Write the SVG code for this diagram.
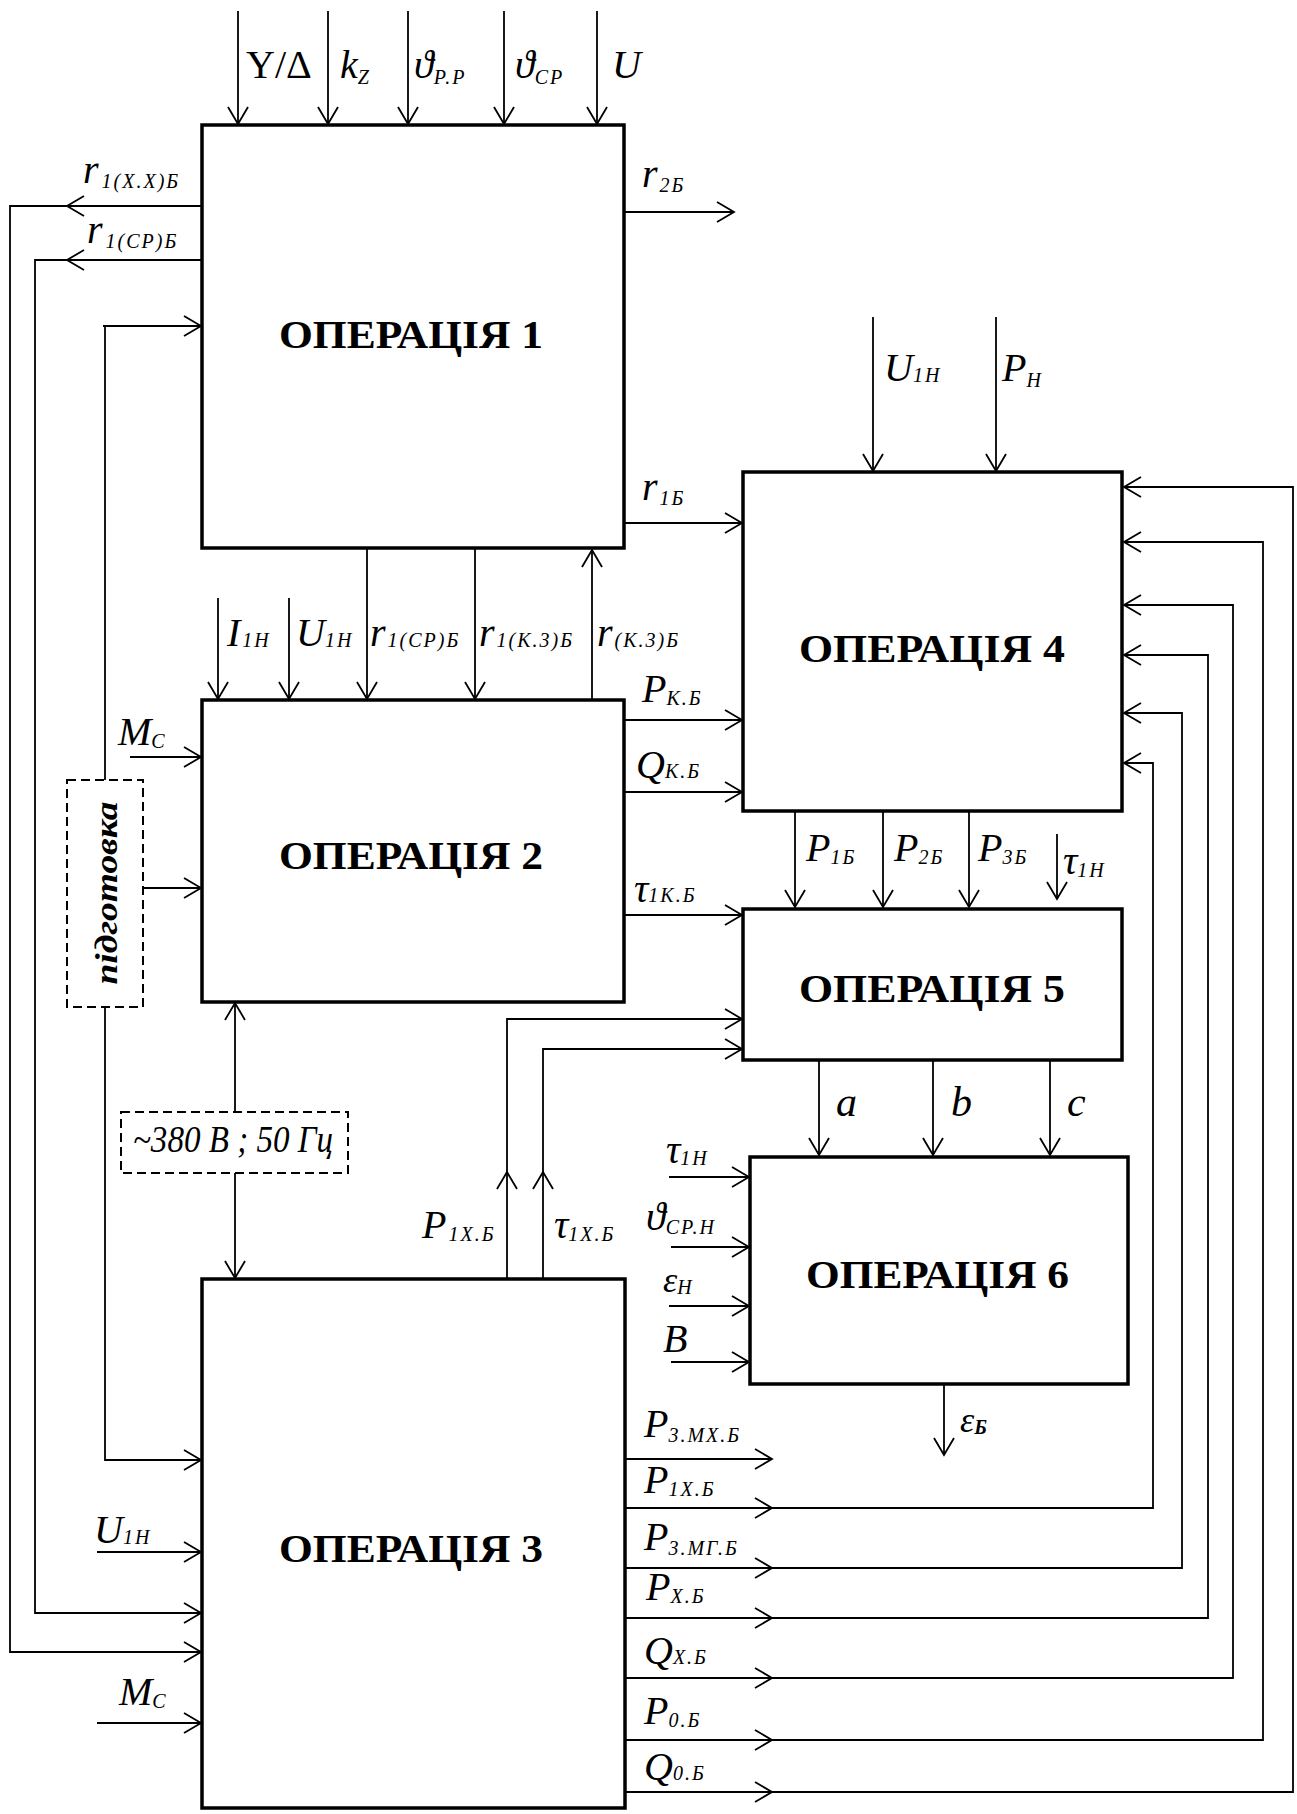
<svg xmlns="http://www.w3.org/2000/svg" width="1297" height="1814" viewBox="0 0 1297 1814">
<defs>
<marker id="ah" markerWidth="22" markerHeight="24" refX="18" refY="11" orient="auto" markerUnits="userSpaceOnUse" overflow="visible">
<path d="M1,1 L18,11 L1,21" fill="none" stroke="#000" stroke-width="1.8"/>
</marker>
</defs>
<style>
.box{fill:#fff;stroke:#000;stroke-width:3.5}
.c{fill:none;stroke:#000;stroke-width:1.8}
.a{marker-end:url(#ah)}
.dash{fill:#fff;stroke:#000;stroke-width:2;stroke-dasharray:9 5}
.t{font-family:"Liberation Serif","Times New Roman",serif;font-weight:bold;font-size:40px;fill:#000}
.l{font-family:"Liberation Serif","Times New Roman","DejaVu Serif",serif;font-style:italic;font-size:40px;fill:#000}
.u{font-family:"Liberation Serif","Times New Roman","DejaVu Serif",serif;font-size:40px;fill:#000}
.s{font-size:20px;letter-spacing:2px}
</style>
<rect width="1297" height="1814" fill="#fff"/>

<g id="connectors">
<!-- top inputs to Op1 -->
<line class="c a" x1="238" y1="11" x2="238" y2="124"/>
<line class="c a" x1="328" y1="11" x2="328" y2="124"/>
<line class="c a" x1="408" y1="11" x2="408" y2="124"/>
<line class="c a" x1="504" y1="11" x2="504" y2="124"/>
<line class="c a" x1="597" y1="11" x2="597" y2="124"/>
<!-- r1(XX) feedback -->
<line class="c a" x1="202" y1="206" x2="67" y2="206"/>
<polyline class="c a" points="67,206 10,206 10,1652 201,1652"/>
<!-- r1(CP) -->
<line class="c a" x1="202" y1="260" x2="67" y2="260"/>
<polyline class="c a" points="67,260 35,260 35,1613 201,1613"/>
<!-- r2 -->
<line class="c a" x1="624" y1="212" x2="734" y2="212"/>
<!-- preparation bus -->
<polyline class="c" points="103,326 105,326 105,780"/>
<line class="c a" x1="105" y1="326" x2="201" y2="326"/>
<polyline class="c a" points="105,1007 105,1460 201,1460"/>
<line class="c a" x1="143" y1="888" x2="201" y2="888"/>
<!-- Op1 to Op2 -->
<line class="c a" x1="367" y1="548" x2="367" y2="699"/>
<line class="c a" x1="475" y1="548" x2="475" y2="699"/>
<line class="c a" x1="218" y1="598" x2="218" y2="699"/>
<line class="c a" x1="289" y1="598" x2="289" y2="699"/>
<line class="c a" x1="592" y1="700" x2="592" y2="550"/>
<!-- r1 to Op4 -->
<line class="c a" x1="624" y1="523" x2="742" y2="523"/>
<!-- Op4 top inputs -->
<line class="c a" x1="873" y1="317" x2="873" y2="471"/>
<line class="c a" x1="996" y1="317" x2="996" y2="471"/>
<!-- Op2 outputs -->
<line class="c a" x1="624" y1="720" x2="742" y2="720"/>
<line class="c a" x1="624" y1="792" x2="742" y2="792"/>
<line class="c a" x1="624" y1="915" x2="742" y2="915"/>
<!-- Mc Op2 -->
<line class="c a" x1="130" y1="757" x2="201" y2="757"/>
<!-- 380 V -->
<line class="c a" x1="235" y1="1112" x2="235" y2="1003"/>
<line class="c a" x1="235" y1="1173" x2="235" y2="1278"/>
<!-- Op3 top outputs to Op5 -->
<line class="c a" x1="507" y1="1279" x2="507" y2="1172"/>
<polyline class="c a" points="507,1172 507,1019 742,1019"/>
<line class="c a" x1="543" y1="1279" x2="543" y2="1172"/>
<polyline class="c a" points="543,1172 543,1049 742,1049"/>
<!-- Op4 to Op5 -->
<line class="c a" x1="795" y1="811" x2="795" y2="907"/>
<line class="c a" x1="883" y1="811" x2="883" y2="907"/>
<line class="c a" x1="969" y1="811" x2="969" y2="907"/>
<line class="c a" x1="1057" y1="834" x2="1057" y2="899"/>
<!-- Op5 to Op6 -->
<line class="c a" x1="819" y1="1060" x2="819" y2="1155"/>
<line class="c a" x1="933" y1="1060" x2="933" y2="1155"/>
<line class="c a" x1="1050" y1="1060" x2="1050" y2="1155"/>
<!-- Op6 inputs -->
<line class="c a" x1="669" y1="1177" x2="749" y2="1177"/>
<line class="c a" x1="671" y1="1247" x2="749" y2="1247"/>
<line class="c a" x1="669" y1="1306" x2="749" y2="1306"/>
<line class="c a" x1="671" y1="1362" x2="749" y2="1362"/>
<!-- Op6 output -->
<line class="c a" x1="944" y1="1384" x2="944" y2="1455"/>
<!-- Op3 outputs -->
<line class="c a" x1="625" y1="1459" x2="772" y2="1459"/>
<line class="c a" x1="625" y1="1508" x2="772" y2="1508"/>
<polyline class="c a" points="772,1508 1153,1508 1153,763 1124,763"/>
<line class="c a" x1="625" y1="1568" x2="772" y2="1568"/>
<polyline class="c a" points="772,1568 1182,1568 1182,713 1124,713"/>
<line class="c a" x1="625" y1="1618" x2="772" y2="1618"/>
<polyline class="c a" points="772,1618 1208,1618 1208,655 1124,655"/>
<line class="c a" x1="625" y1="1678" x2="772" y2="1678"/>
<polyline class="c a" points="772,1678 1233,1678 1233,605 1124,605"/>
<line class="c a" x1="625" y1="1740" x2="772" y2="1740"/>
<polyline class="c a" points="772,1740 1263,1740 1263,542 1124,542"/>
<line class="c a" x1="625" y1="1792" x2="772" y2="1792"/>
<polyline class="c a" points="772,1792 1293,1792 1293,487 1124,487"/>
<!-- Op3 left inputs -->
<line class="c a" x1="97" y1="1552" x2="201" y2="1552"/>
<line class="c a" x1="97" y1="1723" x2="201" y2="1723"/>
</g>

<g id="op1">
<rect class="box" x="202" y="125" width="422" height="423"/>
<text class="t" x="279" y="348" textLength="264" lengthAdjust="spacingAndGlyphs">ОПЕРАЦІЯ  1</text>
</g>
<g id="op2">
<rect class="box" x="202" y="700" width="422" height="302"/>
<text class="t" x="279" y="869" textLength="264" lengthAdjust="spacingAndGlyphs">ОПЕРАЦІЯ  2</text>
</g>
<g id="op3">
<rect class="box" x="202" y="1279" width="423" height="529"/>
<text class="t" x="279" y="1562" textLength="264" lengthAdjust="spacingAndGlyphs">ОПЕРАЦІЯ  3</text>
</g>
<g id="op4">
<rect class="box" x="743" y="472" width="379" height="339"/>
<text class="t" x="799" y="662" textLength="266" lengthAdjust="spacingAndGlyphs">ОПЕРАЦІЯ  4</text>
</g>
<g id="op5">
<rect class="box" x="743" y="909" width="379" height="151"/>
<text class="t" x="799" y="1002" textLength="266" lengthAdjust="spacingAndGlyphs">ОПЕРАЦІЯ  5</text>
</g>
<g id="op6">
<rect class="box" x="750" y="1157" width="378" height="227"/>
<text class="t" x="806" y="1288" textLength="263" lengthAdjust="spacingAndGlyphs">ОПЕРАЦІЯ  6</text>
</g>
<g id="prep">
<rect class="dash" x="67" y="780" width="76" height="227"/>
<text class="l" style="font-weight:bold;font-size:32px" transform="translate(117,893) rotate(-90)" text-anchor="middle" textLength="183" lengthAdjust="spacingAndGlyphs">підготовка</text>
</g>
<g id="supply">
<rect class="dash" x="121" y="1112" width="227" height="61"/>
<text class="l" x="133" y="1152" style="font-size:38px" textLength="200" lengthAdjust="spacingAndGlyphs">~380 В ; 50 Гц</text>
</g>

<g id="labels">
<text class="u" x="246" y="78">Y/Δ</text>
<text class="l" x="340" y="78">k<tspan class="s" dy="6">Z</tspan></text>
<text class="l" x="414" y="78">ϑ<tspan class="s" dy="6">P.P</tspan></text>
<text class="l" x="515" y="78">ϑ<tspan class="s" dy="6">CP</tspan></text>
<text class="l" x="612" y="78">U</text>

<text class="l" x="83" y="183">r<tspan class="s" dx="3" dy="5">1(X.X)Б</tspan></text>
<text class="l" x="87" y="243">r<tspan class="s" dx="3" dy="5">1(CP)Б</tspan></text>
<text class="l" x="642" y="187">r<tspan class="s" dx="2" dy="5">2Б</tspan></text>
<text class="l" x="642" y="500">r<tspan class="s" dx="2" dy="5">1Б</tspan></text>

<text class="l" x="227" y="646">I<tspan class="s" dx="2" dy="1">1H</tspan></text>
<text class="l" x="296" y="646">U<tspan class="s" dy="1">1H</tspan></text>
<text class="l" x="370" y="646">r<tspan class="s" dx="2" dy="1">1(CP)Б</tspan></text>
<text class="l" x="479" y="646">r<tspan class="s" dx="2" dy="1">1(K.3)Б</tspan></text>
<text class="l" x="597" y="646">r<tspan class="s" dx="2" dy="1">(K.3)Б</tspan></text>

<text class="l" x="884" y="381">U<tspan class="s" dy="1">1H</tspan></text>
<text class="l" x="1002" y="381">P<tspan class="s" dy="6">H</tspan></text>

<text class="l" x="642" y="702">P<tspan class="s" dy="3">K.Б</tspan></text>
<text class="l" x="636" y="778">Q<tspan class="s" dy="0">K.Б</tspan></text>
<text class="l" x="634" y="902">τ<tspan class="s" dy="0">1K.Б</tspan></text>
<text class="l" x="118" y="745">M<tspan class="s" dy="3">C</tspan></text>

<text class="l" x="806" y="861">P<tspan class="s" dy="3">1Б</tspan></text>
<text class="l" x="894" y="861">P<tspan class="s" dy="3">2Б</tspan></text>
<text class="l" x="978" y="861">P<tspan class="s" dy="3">3Б</tspan></text>
<text class="l" x="1063" y="874">τ<tspan class="s" dy="3">1H</tspan></text>

<text class="l" x="836" y="1116" style="font-size:42px">a</text>
<text class="l" x="951" y="1116" style="font-size:42px">b</text>
<text class="l" x="1067" y="1116" style="font-size:42px">c</text>

<text class="l" x="666" y="1163">τ<tspan class="s" dy="2">1H</tspan></text>
<text class="l" x="646" y="1230">ϑ<tspan class="s" dy="4">CP.H</tspan></text>
<text class="l" x="663" y="1292" style="font-size:36px">ε<tspan class="s" dy="2">H</tspan></text>
<text class="l" x="663" y="1352">B</text>
<text class="l" x="960" y="1432" style="font-size:36px">ε<tspan class="s" dy="2" style="font-weight:bold">Б</tspan></text>

<text class="l" x="422" y="1238">P<tspan class="s" dx="2" dy="3">1X.Б</tspan></text>
<text class="l" x="554" y="1238">τ<tspan class="s" dy="3">1X.Б</tspan></text>

<text class="l" x="644" y="1437">P<tspan class="s" dy="5">3.MX.Б</tspan></text>
<text class="l" x="644" y="1493">P<tspan class="s" dy="3">1X.Б</tspan></text>
<text class="l" x="644" y="1550">P<tspan class="s" dy="5">3.MГ.Б</tspan></text>
<text class="l" x="646" y="1600">P<tspan class="s" dy="3">X.Б</tspan></text>
<text class="l" x="644" y="1664">Q<tspan class="s" dy="0">X.Б</tspan></text>
<text class="l" x="644" y="1724">P<tspan class="s" dy="3">0.Б</tspan></text>
<text class="l" x="644" y="1780">Q<tspan class="s" dy="0">0.Б</tspan></text>

<text class="l" x="94" y="1543">U<tspan class="s" dy="1">1H</tspan></text>
<text class="l" x="119" y="1705">M<tspan class="s" dy="3">C</tspan></text>
</g>
</svg>
